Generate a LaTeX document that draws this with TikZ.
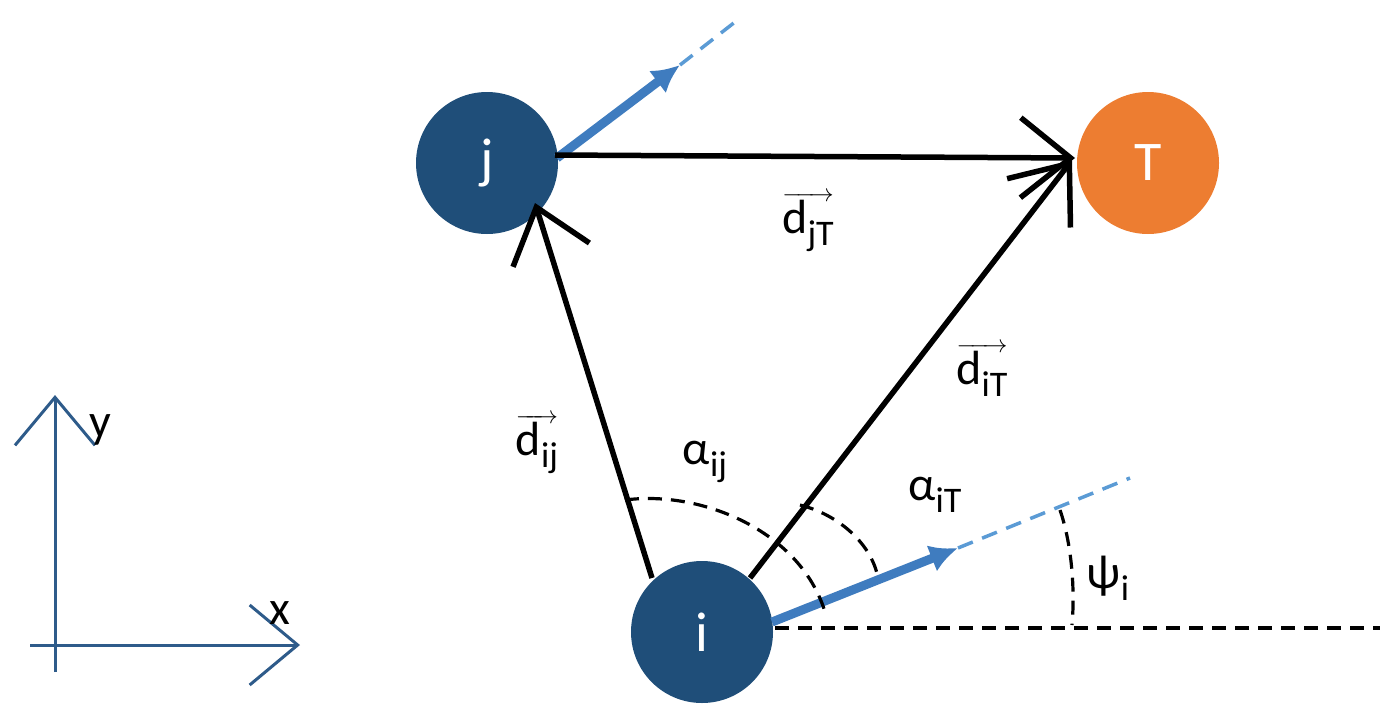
\documentclass[tikz,border=0pt]{standalone}
\usepackage{fontspec}
\setmainfont{Carlito}
\usetikzlibrary{arrows.meta}
\definecolor{nodeblue}{HTML}{1F4E79}
\definecolor{torange}{HTML}{ED7D31}
\definecolor{axblue}{HTML}{2E5B8A}
\definecolor{headblue}{HTML}{3F7CBF}
\definecolor{lightblue}{HTML}{5B9BD5}
\newcommand{\sbs}[1]{\raisebox{-0.25em}{\fontsize{36}{40}\selectfont #1}}
\begin{document}
\begin{tikzpicture}[x=1pt,y=-1pt,
  agent/.style={circle,minimum size=142pt,inner sep=0pt,text=white,font=\fontsize{56}{60}\selectfont},
  vec/.style={line width=5.5pt,-{Straight Barb[length=50pt,width=80pt,line width=5.5pt]}},
  lab/.style={font=\fontsize{48}{54}\selectfont,inner sep=0pt},
  dsh/.style={line width=3.2pt,dash pattern=on 14pt off 9pt},
  ax/.style={line width=3pt,draw=axblue,-{Straight Barb[length=48pt,width=80pt,line width=3pt]}},
  head/.style={line width=9pt,draw=headblue,-{Latex[length=28pt,width=28pt]}},
  headd/.style={line width=3.5pt,draw=lightblue,dash pattern=on 16pt off 10pt}]
\useasboundingbox (0,0) rectangle (1394,718);
\node[agent,fill=nodeblue] (j) at (487,163) {j};
\node[agent,fill=torange] (T) at (1148,163) {T};
\node[agent,fill=nodeblue] (i) at (702,632) {i};
% headings
\coordinate (hj0) at (557,158); \coordinate (hj1) at (680,65); \coordinate (hj2) at (735,22);
\coordinate (hi0) at (772,622); \coordinate (hi1) at (958,548); \coordinate (hi2) at (1130,478);
\draw[headd] (hj1) -- (hj2);
\draw[headd] (hi1) -- (hi2);
\draw[head] (hj0) -- (hj1);
\draw[head] (hi0) -- (hi1);
% vectors
\coordinate (jo) at (555,155); \coordinate (Tin) at (1075,158);
\coordinate (io1) at (652,578); \coordinate (jin) at (535,203);
\coordinate (io2) at (750,578); \coordinate (Tin2) at (1072,160);
\draw[vec] (jo) -- (Tin);
\draw[vec] (io1) -- (jin);
\draw[vec] (io2) -- (Tin2);
% dashed reference and arcs
\coordinate (h0) at (775,628); \coordinate (h1) at (1380,628);
\draw[dsh] (h0) -- (h1);
\draw[dsh] (1060,510) .. controls (1072,545) and (1075,590) .. (1072,625);
\draw[dsh] (625,500) .. controls (700,490) and (800,530) .. (825,612);
\draw[dsh] (800,505) .. controls (840,515) and (872,545) .. (878,578);
% labels
\node[lab] (ljT) at (808,222) {$\overrightarrow{\hbox{d\sbs{jT}}}$};
\node[lab] (liT) at (982,370) {$\overrightarrow{\hbox{d\sbs{iT}}}$};
\node[lab] (lij) at (537,444) {$\overrightarrow{\hbox{d\sbs{ij}}}$};
\node[lab] (aij) at (705,462) {α\sbs{ij}};
\node[lab] (aiT) at (935,495) {α\sbs{iT}};
\node[lab] (psi) at (1108,578) {ψ\sbs{i}};
% axes
\coordinate (o1) at (55,672); \coordinate (ytip) at (55,395);
\coordinate (o2) at (30,645); \coordinate (xtip) at (300,645);
\draw[ax] (o1) -- (ytip);
\draw[ax] (o2) -- (xtip);
\node[lab,text=black] (ly) at (100,430) {y};
\node[lab,text=black] (lx) at (280,613) {x};
\end{tikzpicture}
\end{document}
